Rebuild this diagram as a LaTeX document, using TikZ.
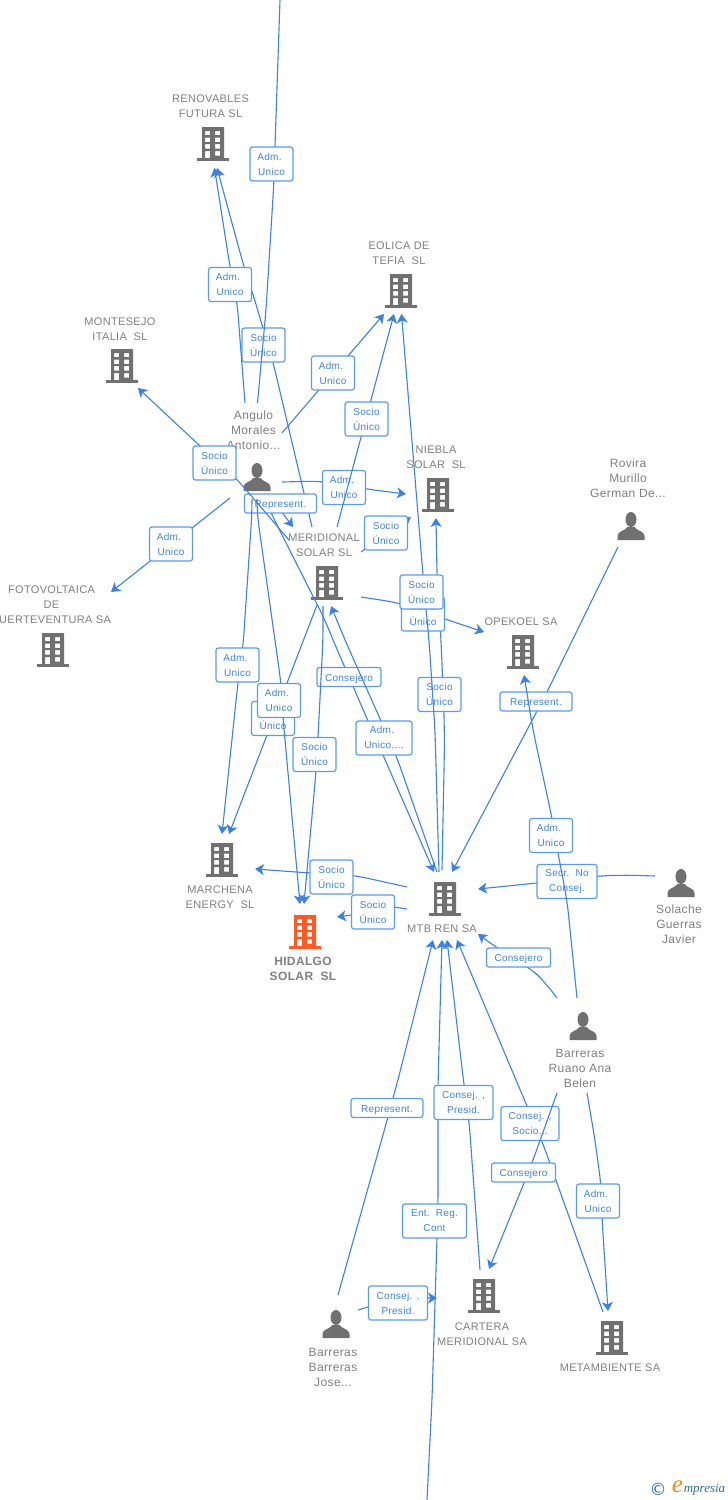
\documentclass[tikz,border=0pt]{standalone}
\usepackage{fontspec}
\setmainfont[LetterSpace=3]{Liberation Sans}
\newfontfamily\logoserif{Liberation Serif}
\newfontfamily\logosans{DejaVu Sans}
\usetikzlibrary{arrows.meta,calc}
\definecolor{edgeblue}{HTML}{3D82E0}
\definecolor{boxblue}{HTML}{5C9AEA}
\definecolor{labblue}{HTML}{3F83E0}
\definecolor{icongray}{HTML}{707070}
\definecolor{namegray}{HTML}{808080}
\definecolor{hotorange}{HTML}{FF5A26}
\definecolor{logoteal}{HTML}{2F7290}
\definecolor{logoorange}{HTML}{F28A1E}
\tikzset{
  edge/.style={draw=edgeblue,line width=1.1pt,rounded corners=14pt,-{Stealth[length=9pt,width=11pt,inset=2.5pt]}},
  plainedge/.style={draw=edgeblue,line width=1.1pt,rounded corners=14pt},
  lab/.style={draw=boxblue,line width=1.2pt,fill=white,rounded corners=2.5pt,inner sep=0pt,align=center,text=labblue,font=\fontsize{10}{15}\selectfont,minimum width=43pt,minimum height=34pt},
  labone/.style={lab,minimum height=19pt,text height=8.2pt,text depth=0pt},
  spot/.style={inner sep=0pt,minimum size=0pt,outer sep=0pt},
  coname/.style={inner sep=0pt,align=center,text=namegray,font=\fontsize{11}{15}\selectfont},
  hotname/.style={inner sep=0pt,align=center,text=namegray,font=\fontsize{12}{15}\selectfont\bfseries},
  pername/.style={inner sep=0pt,align=center,text=namegray,font=\fontsize{12}{15}\selectfont},
}
\newcommand{\bldicon}[4]{%
  \node[spot] (#1) at (#2,#3) {};
  \begin{scope}[shift={(#2,#3)}]
    \fill[#4,even odd rule] (-11,-17) rectangle (11,14)
      (-8,-13) rectangle (-3,-9) (2,-13) rectangle (7,-9)
      (-8,-6.5) rectangle (-3,-2) (2,-6.5) rectangle (7,-2)
      (-8,0) rectangle (-3,4.5) (2,0) rectangle (7,4.5)
      (-8,7) rectangle (-3,14) (2,7) rectangle (7,11.5);
    \fill[#4] (-16,14) rectangle (16,17);
  \end{scope}}
\newcommand{\personicon}[3]{%
  \node[spot] (#1) at (#2,#3) {};
  \begin{scope}[shift={(#2,#3)}]
    \fill[icongray] (0,-6.5) ellipse [x radius=5.5,y radius=7.5];
    \fill[icongray] (-13.5,14) -- (-13.5,10) .. controls (-13.5,5) and (-6,5) .. (-3.5,1) -- (3.5,1) .. controls (6,5) and (13.5,5) .. (13.5,10) -- (13.5,14) -- cycle;
  \end{scope}}
\begin{document}
\begin{tikzpicture}[x=1pt,y=-1pt]
\fill[white] (0,0) rectangle (728,1500);
\useasboundingbox (0,0) rectangle (728,1500);
% buildings
\bldicon{ren}{213}{144}{icongray}
\bldicon{eol}{401}{291}{icongray}
\bldicon{mon}{122}{366}{icongray}
\bldicon{fot}{53}{650}{icongray}
\bldicon{mer}{327}{583}{icongray}
\bldicon{nie}{438}{495}{icongray}
\bldicon{ope}{523}{652}{icongray}
\bldicon{mar}{222}{860}{icongray}
\bldicon{hid}{305}{932}{hotorange}
\bldicon{mtb}{445}{899}{icongray}
\bldicon{car}{484}{1296}{icongray}
\bldicon{met}{612}{1338}{icongray}
% persons
\personicon{ang}{257}{477}
\personicon{rov}{631}{526}
\personicon{sol}{681}{883}
\personicon{bru}{583}{1026}
\personicon{bba}{336}{1324}
% off-page ends
\coordinate (topend) at (280,0);
\coordinate (botend) at (427,1500);
% names
\node[coname] (renT) at (210.5,106.3) {RENOVABLES\\FUTURA SL};
\node[coname] (eolT) at (399,253.3) {EOLICA DE\\TEFIA\ \ SL};
\node[coname] (monT) at (120,329.3) {MONTESEJO\\ITALIA\ \ SL};
\node[coname] (fotT) at (51.5,604.8) {FOTOVOLTAICA\\DE\\FUERTEVENTURA SA};
\node[coname] (merT) at (324,545.3) {MERIDIONAL\\SOLAR SL};
\node[coname] (nieT) at (436,457.3) {NIEBLA\\SOLAR\ \ SL};
\node[coname] (opeT) at (521,621.8) {OPEKOEL SA};
\node[coname] (marT) at (220,897.3) {MARCHENA\\ENERGY\ \ SL};
\node[hotname] (hidT) at (303,968.8) {HIDALGO\\SOLAR\ \ SL};
\node[coname] (mtbT) at (442,928.8) {MTB REN SA};
\node[coname] (carT) at (482,1334.3) {CARTERA\\MERIDIONAL SA};
\node[coname] (metT) at (610,1367.8) {METAMBIENTE SA};
\node[pername] (angT) at (253.5,430) {Angulo\\Morales\\Antonio...};
\node[pername] (rovT) at (628,478) {Rovira\\Murillo\\German De...};
\node[pername] (solT) at (679,924.6) {Solache\\Guerras\\Javier};
\node[pername] (bruT) at (580,1068.6) {Barreras\\Ruano Ana\\Belen};
\node[pername] (bbaT) at (333,1367) {Barreras\\Barreras\\Jose...};
% connectors, in the stacking order of the picture
\draw[edge] ($(mer)+(-15,-56)$) -- (273,362) -- (263,328) -- (252,291) -- (244,267) -- ($(ren)+(4,24)$) node[lab,at={(263.5,345)}] (l1) {Socio\\Único};
\draw[edge] ($(ang)+(-12,-74)$) -- (237,301) -- (230,267) -- ($(ren)+(1.5,24)$) node[lab,at={(230,284.5)}] (l2) {Adm.\hspace*{4pt}\\Unico};
\draw[plainedge] (topend) -- (275,146) -- (274,181) -- (266,310) -- ($(ang)+(0.5,-74)$) node[lab,at={(271.5,164)}] (l3) {Adm.\hspace*{4pt}\\Unico};
\draw[edge] ($(ang)+(25,-44)$) -- ($(eol)+(-17,23)$) node[lab,at={(333,373)}] (l4) {Adm.\hspace*{4pt}\\Unico};
\draw[edge] ($(ang)+(25,5)$) -- (322,481) -- (366,489) -- ($(nie)+(-32,-1)$) node[lab,at={(344,487.5)}] (l6) {Adm.\hspace*{4pt}\\Unico};
\draw[edge] ($(mer)+(10,-56)$) -- ($(eol)+(-7,23)$) node[lab,at={(366.5,419)}] (l5) {Socio\\Único};
\draw[edge] ($(mer)+(34,-31)$) -- ($(nie)+(-27,22)$) node[lab,at={(386,533)}] (l7) {Socio\\Único};
\draw[edge] ($(ang)+(8,23)$) -- (273,517) -- (325,620) -- (333,640) -- (368,721) -- (383,755) -- ($(mtb)+(-11,-27)$) node[labone,minimum width=64pt,at={(349,677)}] (l15) {Consejero};
\draw[edge] ($(ang)+(18,26)$) -- ($(mer)+(-34,-56)$) node[labone,minimum width=72pt,at={(280.5,503.5)}] (l9) {Represent.};
\draw[edge] ($(mer)+(-38,-43)$) -- (236,478) -- (200,446) -- ($(mon)+(16,22)$) node[lab,at={(214.5,463)}] (l8) {Socio\\Único};
\draw[edge] ($(ang)+(-27,21)$) -- ($(fot)+(58,-58)$) node[lab,at={(171,544)}] (l10) {Adm.\hspace*{4pt}\\Unico};
\draw[edge] ($(ang)+(-5,23)$) -- (252,513) -- (243,647) -- (238,682) -- ($(mar)+(0,-26)$) node[lab,at={(237.5,665)}] (l11) {Adm.\hspace*{4pt}\\Unico};
\draw[edge] ($(mer)+(-10,22)$) -- ($(mar)+(7,-26)$) node[lab,at={(273,718.5)}] (l12) {Socio\\Único};
\draw[edge] ($(ang)+(0,23)$) -- (257,513) -- (281,683) -- (283,718) -- ($(hid)+(-5,-28)$) node[lab,at={(279,700.5)}] (l13) {Adm.\hspace*{4pt}\\Unico};
\draw[edge] ($(mer)+(-4,23)$) -- (323,640) -- (318,737) -- (316,772) -- ($(hid)+(-1,-28)$) node[lab,at={(314.5,754.5)}] (l14) {Socio\\Único};
\draw[edge] ($(mtb)+(-8,-27)$) -- (396,755) -- (381,721) -- (345,640) -- ($(mer)+(4,23)$) node[lab,minimum width=56pt,at={(384,738)}] (l16) {Adm.\hspace*{4pt}\\Unico,...};
\draw[edge] ($(rov)+(-13,21)$) -- (547,692) -- (537,711) -- ($(mtb)+(7,-27)$) node[labone,minimum width=72pt,at={(536,701.5)}] (l17) {Represent.};
\draw[edge] ($(mtb)+(-3,-29)$) -- (444.5,745) -- (444,712) -- (441,640) -- (437,575) -- ($(nie)+(-2,23)$) node[lab,at={(439.5,694.5)}] (l18) {Socio\\Único};
\draw[edge] ($(mer)+(34,14)$) -- (400,603) -- (445,619) -- ($(ope)+(-39,-20)$) node[lab,at={(423,614)}] (l19) {Socio\\Único};
\draw[edge] ($(mtb)+(-6,-27)$) -- (435,730) -- (429,640) -- (426,609) -- (423,575) -- ($(eol)+(0.5,23)$) node[lab,at={(421.5,592)}] (l20) {Socio\\Único};
\draw[edge] (botend) -- (432,1400) -- (437,1238) -- (438,1203) -- (438,1085) -- ($(mtb)+(-3,41)$) node[lab,minimum width=64pt,at={(434.5,1221)}] (l21) {Ent.\ \ Reg.\\Cont};
\draw[edge] ($(bba)+(2,-29)$) -- (388,1117) -- (393,1098) -- (398,1080) -- ($(mtb)+(-12,41)$) node[labone,minimum width=72pt,at={(387,1108)}] (l22) {Represent.};
\draw[edge] ($(car)+(-4,-26)$) -- (469,1120) -- (464,1085) -- ($(mtb)+(2,41)$) node[lab,minimum width=59pt,at={(463.5,1102.5)}] (l23) {Consej. ,\\Presid.};
\draw[edge] ($(met)+(-9,-26)$) -- (542,1141) -- (527,1106) -- ($(mtb)+(12,41)$) node[lab,minimum width=58pt,at={(530,1123.5)}] (l24) {Consej. ,\\Socio...};
\draw[edge] ($(bru)+(-26,67)$) -- (532,1163) -- (524,1183) -- ($(car)+(5,-27)$) node[labone,minimum width=64pt,at={(523.5,1172.5)}] (l25) {Consejero};
\draw[edge] ($(bru)+(4,67)$) -- (595,1140) -- (601,1184) -- (602,1218) -- ($(met)+(-4,-27)$) node[lab,at={(598,1201)}] (l26) {Adm.\hspace*{4pt}\\Unico};
\draw[edge,sharp corners] ($(bba)+(22,-14)$) -- (368,1307) -- (428,1298) -- ($(car)+(-47,2)$) node[lab,minimum width=59pt,at={(398,1303)}] (l27) {Consej. ,\\Presid.};
\draw[edge] ($(bru)+(-26,-28)$) -- (545,982) -- (530,968) -- (497,948) -- ($(mtb)+(33,35)$) node[labone,minimum width=64pt,at={(518.5,957.5)}] (l28) {Consejero};
\draw[edge] ($(sol)+(-26,-7)$) -- (625,875) -- (597,876) -- (537,883) -- ($(mtb)+(33,-10)$) node[lab,minimum width=60pt,at={(567,881.5)}] (l30) {Secr.\ \ No\\Consej.};
\draw[edge] ($(bru)+(-6,-28)$) -- (567,900) -- (558,853) -- (552,818) -- (533,730) -- ($(ope)+(1,23)$) node[lab,at={(551,835.5)}] (l29) {Adm.\hspace*{4pt}\\Unico};
\draw[edge] ($(mtb)+(-38,-12)$) -- (353,875) -- (310,873) -- ($(mar)+(33,9)$) node[lab,at={(331.5,877)}] (l31) {Socio\\Único};
\draw[edge,sharp corners] ($(mtb)+(-38,10)$) -- (394,907) -- (352,915) -- ($(hid)+(32,-15)$) node[lab,at={(373,912)}] (l32) {Socio\\Único};
% logo
\node[inner sep=0pt,text=logoteal,font=\logosans\fontsize{17}{17}\selectfont] (logoc) at (658,1489) {©};
\node[inner sep=0pt,text=logoorange,font=\logoserif\itshape\fontsize{25}{25}\selectfont] (logoe) at (677.5,1487) {e};
\node[inner sep=0pt,text=logoteal,font=\logoserif\itshape\fontsize{13}{13}\selectfont] (logom) at (704.5,1490) {mpresia};
\end{tikzpicture}
\end{document}
